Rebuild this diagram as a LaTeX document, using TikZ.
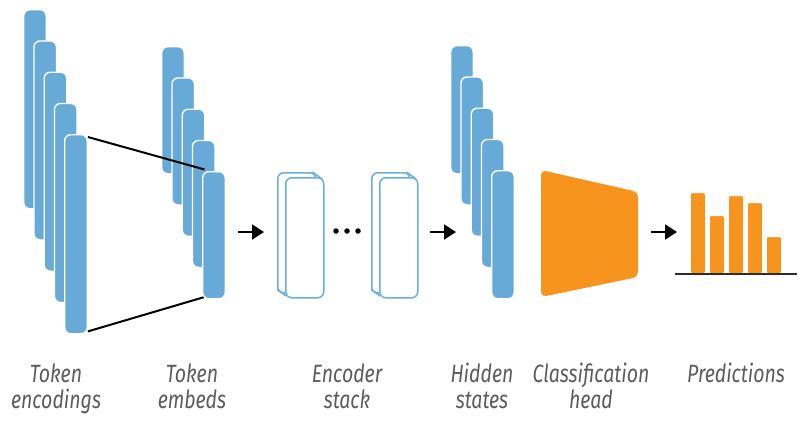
\documentclass[tikz,border=0pt]{standalone}
\usepackage{fontspec}
\setmainfont{Fira Sans}[ItalicFeatures={FakeStretch=0.78}]
\usetikzlibrary{arrows.meta}

\definecolor{barblue}{RGB}{103,170,216}
\definecolor{lineblue}{RGB}{106,174,220}
\definecolor{headorange}{RGB}{247,148,30}
\definecolor{labelgray}{RGB}{92,92,92}
\definecolor{axisgray}{RGB}{45,45,45}

\tikzset{
  vecbar/.style={draw=white, line width=1.4pt, fill=barblue, rounded corners=6pt,
    inner sep=0pt, minimum width=22.5pt, anchor=north west},
  encface/.style={draw=lineblue, line width=1.5pt, fill=white, rounded corners=6pt,
    inner sep=0pt, minimum width=38pt, minimum height=120pt, anchor=north west},
  predbar/.style={fill=headorange, draw=white, line width=0.8pt, rounded corners=2pt,
    inner sep=0pt, minimum width=15pt, anchor=south west},
  joinline/.style={line width=2pt, black},
  flowarrow/.style={line width=1.9pt, -{Triangle[length=12pt,width=15pt]}},
  caption/.style={font=\fontsize{25}{26}\selectfont\itshape, text=labelgray,
    align=center, anchor=base, inner sep=0pt},
}

\begin{document}
\begin{tikzpicture}[x=1pt, y=-1pt]
\useasboundingbox (0,0) rectangle (804,432);

% token encodings: five long vectors
\foreach \i in {1,...,5} {
  \node[vecbar, minimum height=199pt] (enc\i) at ({23+10.25*(\i-1)},{9+31.25*(\i-1)}) {};
}

% token embeddings: five short vectors
\foreach \i in {1,...,4} {
  \node[vecbar, minimum height=127pt] (emb\i) at ({161+10.25*(\i-1)},{46+31.25*(\i-1)}) {};
}
% projection lines from the last encoding to the last embedding
\draw[joinline] ([yshift=-3pt]enc5.north east) -- (204.5,169.5) coordinate (embtop);
\draw[joinline] ([yshift=3pt]enc5.south east) -- (204.5,297) coordinate (embbot);
\node[vecbar, minimum height=127pt] (emb5) at (202,171) {};

% arrow into the encoder stack
\coordinate (a1s) at (238,232);
\coordinate (a1e) at (264,232);
\draw[flowarrow] (a1s) -- (a1e);

% encoder blocks drawn as thin extruded boxes
\node[encface] (encAback) at (277,172) {};
\draw[lineblue, line width=1.5pt] ([xshift=-4pt]encAback.north east) -- (322,179);
\draw[lineblue, line width=1.5pt] ([yshift=4pt]encAback.south west) -- (286,296);
\node[encface] (encA) at (285,177) {};

\node[fill=black, circle, inner sep=0pt, minimum size=5.5pt] (dot1) at (336,231) {};
\node[fill=black, circle, inner sep=0pt, minimum size=5.5pt] (dot2) at (347,231) {};
\node[fill=black, circle, inner sep=0pt, minimum size=5.5pt] (dot3) at (358,231) {};

\node[encface] (encBback) at (371,172) {};
\draw[lineblue, line width=1.5pt] ([xshift=-4pt]encBback.north east) -- (416,179);
\draw[lineblue, line width=1.5pt] ([yshift=4pt]encBback.south west) -- (380,296);
\node[encface] (encB) at (379,177) {};

% arrow out of the encoder stack
\coordinate (a2s) at (430,232);
\coordinate (a2e) at (456,232);
\draw[flowarrow] (a2s) -- (a2e);

% hidden states
\foreach \i in {1,...,5} {
  \node[vecbar, minimum height=128pt] (hid\i) at ({450+10.25*(\i-1)},{45+31.25*(\i-1)}) {};
}

% classification head
\fill[headorange, rounded corners=5pt]
  (541,170) coordinate (headtl) -- (638,192) coordinate (headtr)
  -- (638,277) coordinate (headbr) -- (541,297) coordinate (headbl) -- cycle;

% arrow to the predictions
\coordinate (a3s) at (651,232);
\coordinate (a3e) at (677,232);
\draw[flowarrow] (a3s) -- (a3e);

% predictions bar chart
\node[predbar, minimum height=81pt] (p1) at (690,274) {};
\node[predbar, minimum height=58pt] (p2) at (709,274) {};
\node[predbar, minimum height=78pt] (p3) at (728,274) {};
\node[predbar, minimum height=71pt] (p4) at (747,274) {};
\node[predbar, minimum height=37pt] (p5) at (766,274) {};
\coordinate (axl) at (675,274);
\coordinate (axr) at (797,274);
\draw[axisgray, line width=1.8pt] (axl) -- (axr);

% captions (base anchor sits on the last line)
\node[caption] (cap1) at (56,408) {Token\\encodings};
\node[caption] (cap2) at (192,408) {Token\\embeds};
\node[caption] (cap3) at (347,408) {Encoder\\stack};
\node[caption] (cap4) at (482,408) {Hidden\\states};
\node[caption] (cap5) at (591,408) {Classification\\head};
\node[caption] (cap6) at (736,382) {Predictions};
\end{tikzpicture}
\end{document}
